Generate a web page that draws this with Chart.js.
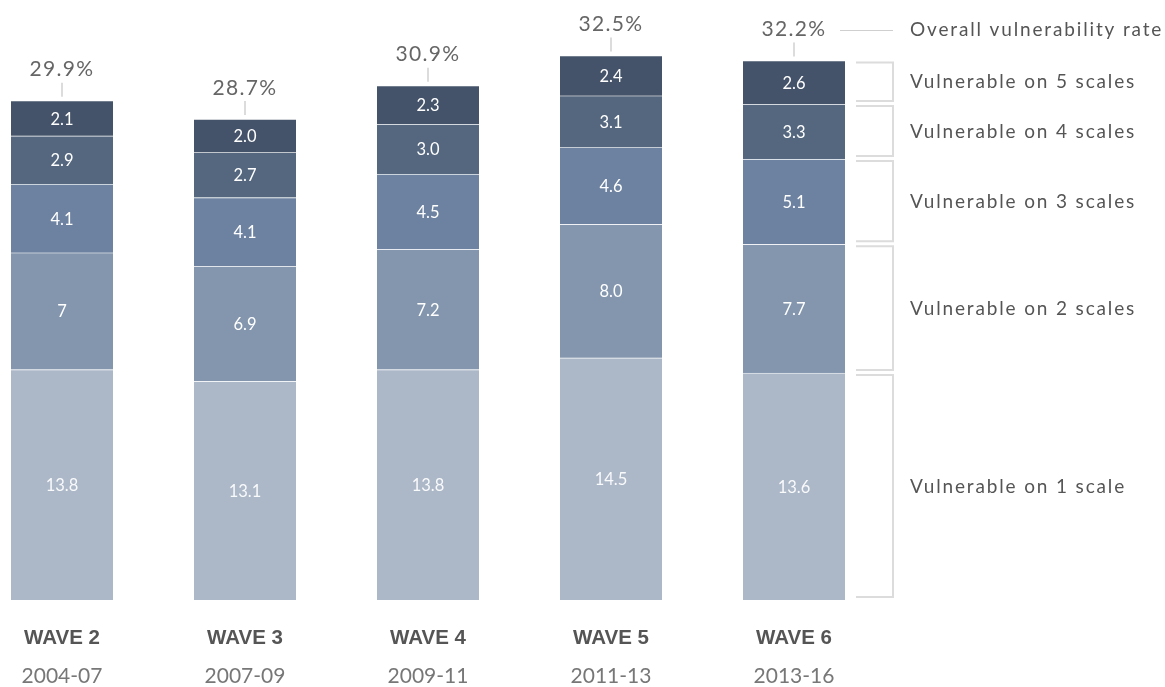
<!DOCTYPE html>
<html>
<head>
<meta charset="utf-8">
<script src="https://cdn.jsdelivr.net/npm/chart.js@4/dist/chart.umd.min.js"></script>
<style>
html,body{margin:0;padding:0;background:#fff;}
#wrap{position:relative;width:1165px;height:687px;}
</style>
</head>
<body>
<div id="wrap"><canvas id="c" width="1165" height="687"></canvas></div>
<script>
const waves = ["WAVE 2", "WAVE 3", "WAVE 4", "WAVE 5", "WAVE 6"];
const periods = ["2004-07", "2007-09", "2009-11", "2011-13", "2013-16"];
const totals = ["29.9%", "28.7%", "30.9%", "32.5%", "32.2%"];
const scale1 = [13.8, 13.1, 13.8, 14.5, 13.6];
const scale2 = [7, 6.9, 7.2, 8.0, 7.7];
const scale3 = [4.1, 4.1, 4.5, 4.6, 5.1];
const scale4 = [2.9, 2.7, 3.0, 3.1, 3.3];
const scale5 = [2.1, 2.0, 2.3, 2.4, 2.6];
const text1 = ["13.8", "13.1", "13.8", "14.5", "13.6"];
const text2 = ["7", "6.9", "7.2", "8.0", "7.7"];
const text3 = ["4.1", "4.1", "4.5", "4.6", "5.1"];
const text4 = ["2.9", "2.7", "3.0", "3.1", "3.3"];
const text5 = ["2.1", "2.0", "2.3", "2.4", "2.6"];
const seriesNames = ["Vulnerable on 1 scale", "Vulnerable on 2 scales", "Vulnerable on 3 scales", "Vulnerable on 4 scales", "Vulnerable on 5 scales"];
const overallName = "Overall vulnerability rate";

const colors = ["#acb7c8", "#8396ae", "#6d82a0", "#54677f", "#445369"];
const texts = [text1, text2, text3, text4, text5];
const values = [scale1, scale2, scale3, scale4, scale5];

const FONT = "Lato, 'Open Sans', sans-serif";

const overlay = {
  id: 'overlay',
  afterDatasetsDraw(chart) {
    const ctx = chart.ctx;
    ctx.save();
    ctx.textAlign = 'center';
    ctx.textBaseline = 'middle';
    ctx.font = "16.5px " + FONT;
    chart.data.datasets.forEach((ds, di) => {
      const meta = chart.getDatasetMeta(di);
      meta.data.forEach((bar, i) => {
        ctx.fillStyle = di === 0 ? 'rgba(255,255,255,0.92)' : '#ffffff';
        ctx.fillText(texts[di][i], bar.x, (bar.y + bar.base) / 2 + 1);
      });
    });
    const topMeta = chart.getDatasetMeta(chart.data.datasets.length - 1);
    topMeta.data.forEach((bar, i) => {
      ctx.strokeStyle = '#d0d0d0';
      ctx.lineWidth = 1.5;
      ctx.beginPath();
      ctx.moveTo(bar.x, bar.y - 18);
      ctx.lineTo(bar.x, bar.y - 4);
      ctx.stroke();
      ctx.fillStyle = '#666';
      ctx.font = "21px " + FONT;
      ctx.letterSpacing = '1.3px';
      ctx.fillText(totals[i], bar.x, bar.y - 31);
    });
    ctx.letterSpacing = '0px';
    chart.data.labels.forEach((lab, i) => {
      const x = chart.scales.x.getPixelForValue(i);
      ctx.fillStyle = '#555';
      ctx.font = "bold 20.5px 'Liberation Sans', Arial, sans-serif";
      ctx.fillText(waves[i], x, 638);
      ctx.fillStyle = '#777';
      ctx.font = "21px " + FONT;
      ctx.fillText(periods[i], x, 676);
    });
    const last = topMeta.data.length - 1;
    const lastBar = topMeta.data[last];
    ctx.textAlign = 'left';
    ctx.font = "19px " + FONT;
    ctx.letterSpacing = '1.85px';
    ctx.fillStyle = '#555';
    ctx.strokeStyle = '#cfcfcf';
    ctx.lineWidth = 1;
    ctx.beginPath();
    ctx.moveTo(840, Math.round(lastBar.y - 31) + 0.5);
    ctx.lineTo(893, Math.round(lastBar.y - 31) + 0.5);
    ctx.stroke();
    ctx.fillText(overallName, 910, lastBar.y - 31);
    ctx.strokeStyle = '#dcdcdc';
    ctx.lineWidth = 2;
    chart.data.datasets.forEach((ds, di) => {
      const bar = chart.getDatasetMeta(di).data[last];
      const t = bar.y + 2, b = bar.base - 3;
      ctx.beginPath();
      ctx.moveTo(856, t);
      ctx.lineTo(893, t);
      ctx.lineTo(893, b);
      ctx.lineTo(856, b);
      ctx.stroke();
      ctx.fillText(seriesNames[di], 910, (bar.y + bar.base) / 2);
    });
    ctx.restore();
  }
};

new Chart(document.getElementById('c'), {
  type: 'bar',
  data: {
    labels: waves,
    datasets: values.map((v, i) => ({
      label: seriesNames[i],
      data: v,
      backgroundColor: colors[i],
      borderColor: 'rgba(255,255,255,0.13)',
      borderWidth: {top: 1, bottom: 0, left: 0, right: 0},
      borderSkipped: false,
      barThickness: 102,
      clip: false
    }))
  },
  options: {
    responsive: false,
    animation: false,
    devicePixelRatio: 1,
    layout: {padding: {left: 62, right: 371, top: 15.5, bottom: 87}},
    plugins: {legend: {display: false}, tooltip: {enabled: false}},
    scales: {
      x: {stacked: true, display: false, offset: false},
      y: {stacked: true, display: false, min: 0, max: 35}
    }
  },
  plugins: [overlay]
});
</script>
</body>
</html>
